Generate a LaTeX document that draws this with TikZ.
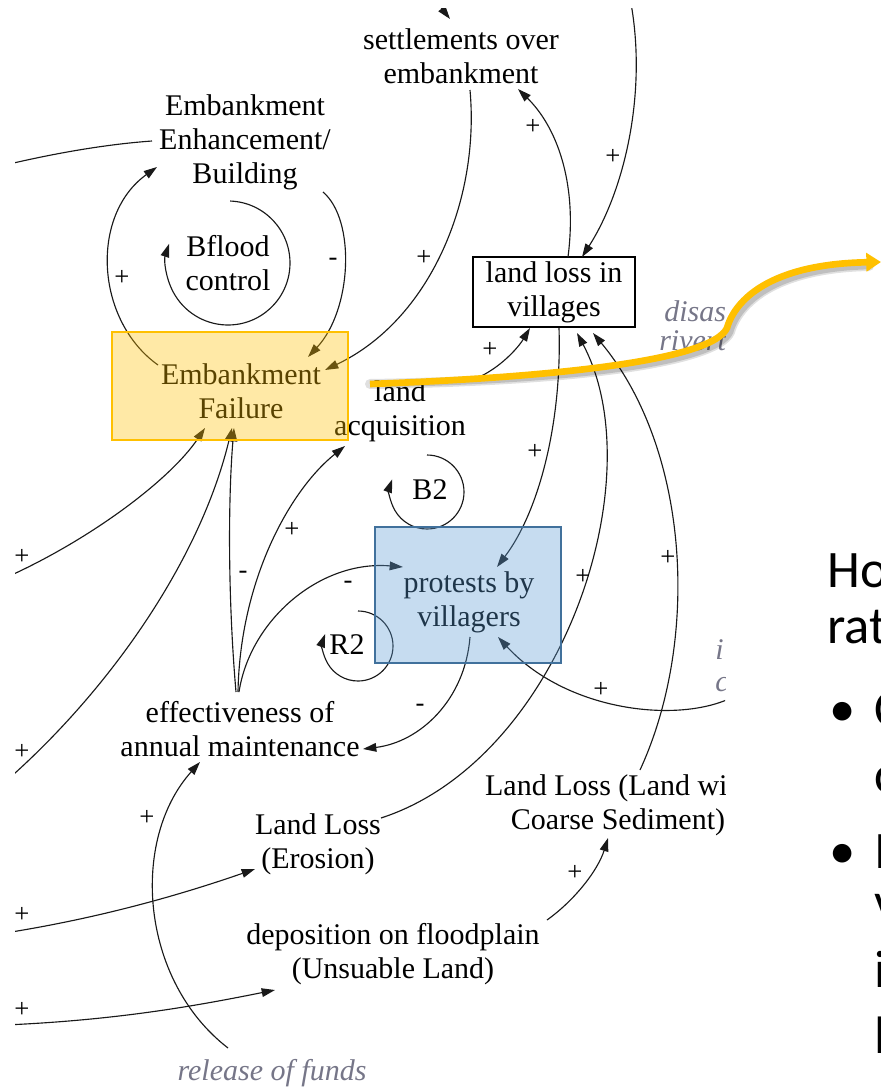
\documentclass[tikz,border=0pt]{standalone}
\usepackage{fontspec}
\setmainfont{Liberation Serif}
\newfontfamily\slidefont{Carlito}
\usetikzlibrary{arrows.meta}
\definecolor{hlyellow}{HTML}{FFC000}
\definecolor{hlblue}{HTML}{5B9BD5}
\definecolor{hlblueedge}{HTML}{41719C}
\definecolor{notegray}{RGB}{118,118,136}
\begin{document}
\begin{tikzpicture}[x=0.75pt,y=-0.75pt,
  var/.style={font=\fontsize{22.5}{25.5}\selectfont, align=center, inner sep=0pt},
  note/.style={font=\fontsize{22.5}{25.5}\selectfont\itshape, text=notegray, inner sep=0pt},
  pol/.style={font=\fontsize{20}{22}\selectfont, inner sep=0pt},
  link/.style={draw=black!90, line width=0.85pt, -{Triangle[length=10pt,width=6.5pt]}},
  plain/.style={draw=black!90, line width=0.85pt},
  slide/.style={font=\slidefont\fontsize{39.5}{47}\selectfont, inner sep=0pt, anchor=base west}
]
\useasboundingbox (0,0) rectangle (881,1089);
\clip (0,0) rectangle (881,1089);

\begin{scope}
\clip (15,8) rectangle (725,1089);

% ---------- variables ----------
\node[var] (settle) at (461,56) {settlements over\\embankment};
\node[var] (enh) at (245,142) {Embankment\\Enhancement/\\Building};
\node[var] (bflood) at (228,263) {Bflood\\control};
\node[var] (failtext) at (241,391) {Embankment\\Failure};
\node[inner sep=0pt, minimum width=176.25pt, minimum height=81pt] (fail) at (230,386) {};
\node[var, draw=black, line width=1.5pt, fill=white, minimum width=121.5pt, minimum height=52.5pt] (land) at (554,292) {land loss in\\villages};
\node[var] (acq) at (400,411) {land\\acquisition};
\node[var] (b2) at (430,490) {B2};
\node[var] (prottext) at (469,602) {protests by\\villagers};
\node[inner sep=0pt, minimum width=138.75pt, minimum height=102pt] (prot) at (468,595) {};
\node[var] (r2) at (347,645) {R2};
\node[var] (eff) at (240,729) {effectiveness of\\annual maintenance};
\node[var] (eros) at (318,844) {Land Loss\\(Erosion)};
\node[var] (coarse) at (618,805) {Land Loss (Land with\\Coarse Sediment)};
\node[var] (depo) at (393,954) {deposition on floodplain\\(Unsuable Land)};
\node[note] (funds) at (272,1073) {release of funds};
\node[note, anchor=west] (disas) at (664,311) {disas};
\node[note, anchor=west] (rivert) at (659,341) {rivert};
\node[note, anchor=west] (inote) at (715,650) {i};
\node[note, anchor=west] (cnote) at (715,685) {c};

% free ends of links leaving the view
\coordinate (wenh) at (5,165);
\coordinate (wfail1) at (5,578);
\coordinate (wfail2) at (5,782);
\coordinate (weros) at (5,933);
\coordinate (wdepo) at (5,1025);
\coordinate (ntop1) at (432,-4);
\coordinate (ntop2) at (630,-2);
\coordinate (eprot) at (740,693);

% ---------- links ----------
\draw[plain] (wenh) .. controls (60,152) and (110,144) .. ([shift={(-93,-1)}]enh.center);
\draw[link] ([shift={(-72,-21)}]fail.center) .. controls (95,320) and (90,215) .. ([shift={(-88,25)}]enh.center);
\draw[link] ([shift={(-88:62)}]bflood.center) arc[start angle=-88, end angle=198, radius=62];
\draw[link] ([shift={(78,50)}]enh.center) .. controls (356,220) and (352,310) .. ([shift={(78,-29)}]fail.center);
\draw[link] ([shift={(9,34)}]settle.center) .. controls (480,200) and (430,320) .. ([shift={(95,-16)}]fail.center);
\draw[link] (ntop1) -- ([shift={(-11,-37)}]settle.center);
\draw[link] ([shift={(14,-35)}]land.center) .. controls (578,180) and (555,125) .. ([shift={(57,33)}]settle.center);
\draw[link] (ntop2) .. controls (648,90) and (625,190) .. ([shift={(28,-35)}]land.center);
\draw[link] ([shift={(77,-33)}]acq.center) .. controls (500,368) and (518,348) .. ([shift={(-24,36)}]land.center);
\draw[link] ([shift={(5,36)}]land.center) .. controls (562,420) and (540,510) .. ([shift={(29,-28)}]prot.center);
\draw[link] ([shift={(63,-26)}]eros.center) .. controls (560,760) and (655,480) .. ([shift={(23,41)}]land.center);
\draw[link] ([shift={(22,-35)}]coarse.center) .. controls (700,640) and (690,450) .. ([shift={(39,41)}]land.center);
\draw[link] (eprot) .. controls (690,725) and (570,715) .. ([shift={(30,42)}]prot.center);
\draw[link] ([shift={(2,42)}]prot.center) .. controls (465,700) and (420,742) .. ([shift={(123,20)}]eff.center);
\draw[link] ([shift={(-4,-37)}]eff.center) .. controls (228,600) and (228,500) .. ([shift={(4,42)}]fail.center);
\draw[link] ([shift={(-2,-37)}]eff.center) .. controls (240,580) and (290,490) .. ([shift={(-55,35)}]acq.center);
\draw[link] ([shift={(-1,-37)}]eff.center) .. controls (250,620) and (320,560) .. ([shift={(-65,-28)}]prot.center);
\draw[link] (wfail2) .. controls (110,690) and (200,560) .. ([shift={(2,42)}]fail.center);
\draw[link] (wfail1) .. controls (90,540) and (170,480) .. ([shift={(-25,42)}]fail.center);
\draw[link] ([shift={(-44,-25)}]funds.center) .. controls (140,980) and (130,840) .. ([shift={(-40,33)}]eff.center);
\draw[link] (weros) .. controls (100,918) and (180,895) .. ([shift={(-63,25)}]eros.center);
\draw[link] (wdepo) .. controls (120,1020) and (200,1005) .. ([shift={(-118,36)}]depo.center);
\draw[link] ([shift={(154,-34)}]depo.center) .. controls (575,900) and (598,870) .. ([shift={(-10,33)}]coarse.center);
\draw[link] ([shift={(-3,-35)}]b2.center) arc[start angle=-90, end angle=200, radius=37];
\draw[link] ([shift={(11,-34)}]r2.center) arc[start angle=-90, end angle=200, radius=35];

% ---------- polarities ----------
\node[pol] (p1) at (122,278) {+};
\node[pol] (p2) at (333,262) {-};
\node[pol] (p3) at (424,258) {+};
\node[pol] (p4) at (533,127) {+};
\node[pol] (p5) at (613,157) {+};
\node[pol] (p6) at (490,350) {+};
\node[pol] (p7) at (535,452) {+};
\node[pol] (p8) at (292,530) {+};
\node[pol] (p9) at (243,575) {-};
\node[pol] (p10) at (348,585) {-};
\node[pol] (p11) at (583,577) {+};
\node[pol] (p12) at (668,558) {+};
\node[pol] (p13) at (601,690) {+};
\node[pol] (p14) at (420,708) {-};
\node[pol] (p15) at (22,557) {+};
\node[pol] (p16) at (22,752) {+};
\node[pol] (p17) at (147,818) {+};
\node[pol] (p18) at (22,915) {+};
\node[pol] (p19) at (22,1010) {+};
\node[pol] (p20) at (575,873) {+};

% ---------- highlight boxes ----------
\fill[hlyellow, fill opacity=0.35] (fail.south west) rectangle (fail.north east);
\draw[hlyellow, line width=1.5pt] (fail.south west) rectangle (fail.north east);
\fill[hlblue, fill opacity=0.35] (prot.south west) rectangle (prot.north east);
\draw[hlblueedge, line width=1.5pt] (prot.south west) rectangle (prot.north east);
\end{scope}

% ---------- call-out arrow ----------
\coordinate (hlstart) at (370,384);
\coordinate (hlend) at (881,262);
\begin{scope}[shift={(3,4)}]
\draw[black, opacity=0.12, line width=7.5pt, line cap=round]
  (hlstart) .. controls (560,377) and (712,360) .. (727,328)
  .. controls (735,300) and (770,264) .. (866,262);
\draw[black, opacity=0.15, line width=5pt]
  (hlstart) .. controls (560,377) and (712,360) .. (727,328)
  .. controls (735,300) and (770,264) .. (866,262);
\end{scope}
\draw[hlyellow, line width=5pt, -{Triangle[length=11pt,width=13.5pt]}]
  (hlstart) .. controls (560,377) and (712,360) .. (727,328)
  .. controls (735,300) and (770,264) .. (hlend);

% ---------- slide text ----------
\node[slide] (s1) at (827,587) {Ho};
\node[slide] (s2) at (827,643) {rat};
\node[slide] (s3) at (829,726) {•};
\node[slide] (s4) at (874,726) {C};
\node[slide] (s5) at (874,792) {c};
\node[slide] (s6) at (829,868) {•};
\node[slide] (s7) at (874,868) {I};
\node[slide] (s8) at (874,919) {v};
\node[slide] (s9) at (874,987) {i};
\node[slide] (s10) at (874,1053) {l};
\end{tikzpicture}
\end{document}
